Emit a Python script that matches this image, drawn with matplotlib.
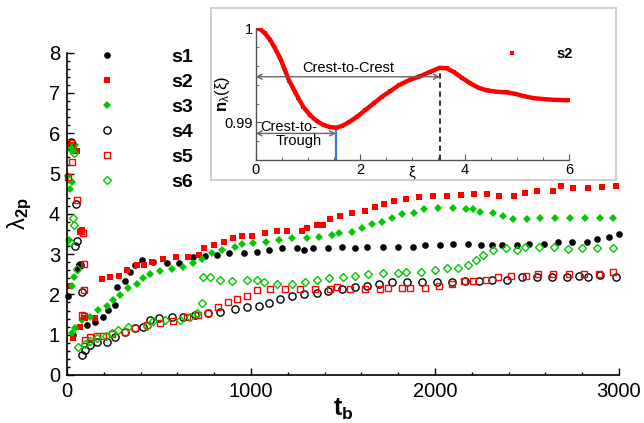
import matplotlib
matplotlib.use("Agg")
import matplotlib.pyplot as plt
from matplotlib.lines import Line2D
from matplotlib.ticker import MultipleLocator
import numpy as np

plt.rcParams['font.family'] = ['Liberation Sans', 'DejaVu Sans']
plt.rcParams['mathtext.fontset'] = 'custom'
plt.rcParams['mathtext.rm'] = 'Liberation Sans'
plt.rcParams['mathtext.it'] = 'Liberation Sans:italic'
plt.rcParams['mathtext.bf'] = 'Liberation Sans:bold'
plt.rcParams['mathtext.default'] = 'regular'

# lambda_2p against t_b for six runs, (t_b, lambda_2p)
s1_pts = [(5, 1.97), (25, 5.6), (53, 2.62), (65, 2.72),
          (33, 1.0), (107, 1.24), (152, 1.32), (196, 1.45), (223, 1.61), (261, 1.74),
          (270, 2.18), (315, 2.33), (342, 2.56), (370, 2.73), (406, 2.85), (469, 2.81),
          (542, 2.77), (610, 2.79), (687, 2.94), (750, 2.96), (814, 2.98), (882, 3.02),
          (962, 3.02), (1031, 3.06), (1100, 3.1), (1167, 3.14), (1248, 3.14), (1288, 3.1),
          (1335, 3.14), (1420, 3.14), (1496, 3.18), (1565, 3.14), (1632, 3.18), (1716, 3.18),
          (1797, 3.18), (1879, 3.18), (1946, 3.22), (2027, 3.22), (2096, 3.26), (2181, 3.26),
          (2248, 3.22), (2311, 3.22), (2366, 3.22), (2444, 3.22), (2513, 3.26), (2594, 3.26),
          (2667, 3.3), (2743, 3.3), (2825, 3.3), (2882, 3.38), (2947, 3.43), (3002, 3.51)]

s2_pts = [(15, 2.2), (20, 5.7), (40, 5.65), (55, 5.55), (70, 3.55), (80, 3.6),
          (35, 0.91), (70, 1.2), (98, 1.41), (152, 1.41), (188, 2.38), (234, 2.42),
          (284, 2.46), (324, 2.6), (379, 2.73), (418, 2.73), (460, 2.81), (523, 2.89),
          (592, 2.94), (660, 2.92), (719, 2.98), (743, 3.14), (799, 3.22), (853, 3.31),
          (904, 3.39), (950, 3.44), (1006, 3.44), (1074, 3.52), (1143, 3.57), (1195, 3.57),
          (1275, 3.57), (1307, 3.65), (1360, 3.73), (1389, 3.73), (1429, 3.86), (1484, 3.95),
          (1547, 4.01), (1618, 4.08), (1672, 4.17), (1723, 4.24), (1777, 4.33), (1841, 4.36),
          (1913, 4.43), (1991, 4.44), (2064, 4.45), (2141, 4.46), (2214, 4.49), (2281, 4.49),
          (2350, 4.45), (2429, 4.45), (2489, 4.52), (2553, 4.57), (2640, 4.57), (2685, 4.69),
          (2752, 4.65), (2830, 4.65), (2906, 4.66), (2982, 4.69)]

s3_pts = [(5, 4.95), (15, 4.62), (25, 4.78), (20, 5.65), (35, 5.55), (45, 5.7),
          (10, 3.35), (25, 2.2), (40, 2.42),
          (25, 1.04), (43, 1.17), (80, 1.36), (125, 1.45), (170, 1.61), (216, 1.71),
          (252, 1.86), (288, 1.99), (333, 2.15), (379, 2.27), (415, 2.4), (451, 2.5),
          (505, 2.59), (569, 2.63), (632, 2.69), (683, 2.79), (732, 2.89), (786, 3.02),
          (841, 3.1), (913, 3.18), (949, 3.24), (1013, 3.27), (1082, 3.31), (1154, 3.35),
          (1221, 3.39), (1303, 3.39), (1371, 3.43), (1439, 3.47), (1480, 3.52), (1547, 3.56),
          (1602, 3.64), (1656, 3.74), (1710, 3.8), (1765, 3.9), (1822, 3.99), (1886, 4.03),
          (1942, 4.11), (2016, 4.15), (2096, 4.15), (2167, 4.11), (2205, 4.11), (2245, 4.05),
          (2314, 4.03), (2371, 3.95), (2422, 3.86), (2502, 3.86), (2571, 3.9), (2652, 3.9),
          (2734, 3.9), (2815, 3.9), (2897, 3.9), (2966, 3.9)]

s4_pts = [(20, 5.78), (50, 4.25), (45, 3.2), (55, 3.32), (71, 2.73), (82, 2.07),
          (80, 0.5), (98, 0.62), (125, 0.74), (161, 0.83), (216, 0.83), (261, 0.95),
          (315, 1.07), (370, 1.16), (415, 1.2), (451, 1.36), (502, 1.41), (569, 1.43),
          (632, 1.45), (696, 1.49), (768, 1.55), (832, 1.57), (913, 1.63), (977, 1.68),
          (1042, 1.71), (1100, 1.78), (1156, 1.88), (1221, 1.96), (1286, 2.01), (1357, 2.04),
          (1420, 2.08), (1493, 2.13), (1565, 2.18), (1629, 2.22), (1695, 2.27), (1765, 2.32),
          (1850, 2.32), (1928, 2.32), (2009, 2.32), (2091, 2.32), (2163, 2.33), (2241, 2.33),
          (2313, 2.37), (2390, 2.37), (2471, 2.42), (2553, 2.42), (2634, 2.42), (2716, 2.44),
          (2784, 2.46), (2833, 2.42), (2897, 2.47), (2984, 2.44)]

s5_pts = [(20, 5.75), (30, 5.28), (5, 4.92), (53, 4.34), (75, 3.58), (85, 3.52),
          (90, 2.75), (95, 2.1), (90, 1.47), (80, 1.5),
          (98, 0.87), (125, 0.95), (161, 0.97), (197, 0.97), (243, 1.02), (315, 1.07),
          (370, 1.17), (433, 1.24), (505, 1.28), (578, 1.35), (650, 1.45), (714, 1.49),
          (768, 1.55), (822, 1.68), (877, 1.82), (926, 1.88), (980, 1.97), (1031, 2.1),
          (1103, 2.14), (1185, 2.14), (1266, 2.14), (1348, 2.14), (1429, 2.14), (1469, 2.18),
          (1538, 2.14), (1620, 2.14), (1701, 2.14), (1746, 2.17), (1822, 2.15), (1864, 2.17),
          (1946, 2.17), (2024, 2.21), (2091, 2.26), (2160, 2.34), (2208, 2.34), (2277, 2.37),
          (2342, 2.42), (2411, 2.46), (2495, 2.46), (2562, 2.51), (2643, 2.51), (2730, 2.51),
          (2810, 2.51), (2893, 2.51), (2966, 2.56)]

s6_pts = [(20, 5.6), (40, 5.5), (33, 3.9), (40, 3.72), (15, 3.3), (55, 2.62),
          (62, 0.7), (100, 0.78), (125, 0.85), (165, 0.92), (210, 0.98), (243, 1.03),
          (279, 1.12), (333, 1.2), (433, 1.22), (469, 1.33), (533, 1.36), (614, 1.36),
          (668, 1.43), (705, 1.53), (732, 1.78), (741, 2.42), (777, 2.42), (831, 2.37),
          (895, 2.34), (977, 2.35), (1031, 2.36), (1072, 2.32), (1140, 2.26), (1221, 2.26),
          (1294, 2.32), (1361, 2.36), (1426, 2.4), (1498, 2.44), (1565, 2.46), (1634, 2.51),
          (1716, 2.52), (1797, 2.54), (1843, 2.56), (1924, 2.56), (2000, 2.61), (2067, 2.65),
          (2127, 2.65), (2181, 2.73), (2223, 2.85), (2263, 2.98), (2317, 3.1), (2386, 3.14),
          (2444, 3.1), (2489, 3.18), (2567, 3.18), (2649, 3.18), (2721, 3.13), (2797, 3.14),
          (2882, 3.14), (2966, 3.14)]

# n_lambda(xi) profile for run s2
xi = [0, 0.08, 0.18, 0.28, 0.37, 0.47, 0.56, 0.64, 0.72, 0.82, 0.91, 1.04, 1.17, 1.30,
      1.43, 1.54, 1.65, 1.78, 1.94, 2.10, 2.26, 2.42, 2.58, 2.74, 2.96, 3.15, 3.34, 3.53,
      3.66, 3.79, 3.95, 4.11, 4.27, 4.43, 4.62, 4.81, 4.97, 5.13, 5.32, 5.51, 5.71, 5.90, 6.0]
n_xi = [1.0, 0.99993, 0.99947, 0.99876, 0.99787, 0.99681, 0.99557, 0.99445, 0.99362,
        0.99255, 0.99167, 0.99078, 0.99014, 0.98972, 0.98950, 0.98943, 0.98961, 0.99000,
        0.99060, 0.99131, 0.99202, 0.99273, 0.99333, 0.99395, 0.99455, 0.99490, 0.99538,
        0.99581, 0.99574, 0.99538, 0.99474, 0.99415, 0.99368, 0.99340, 0.99326, 0.99319,
        0.99304, 0.99280, 0.99258, 0.99248, 0.99240, 0.99237, 0.99234]

RED = '#ff0000'
GREEN = '#00c800'

series = [
    ('s1', s1_pts, dict(marker='o', color='black', mfc='black', ms=4.8, mew=0)),
    ('s2', s2_pts, dict(marker='s', color=RED, mfc=RED, ms=4.0, mew=0)),
    ('s3', s3_pts, dict(marker='D', color=GREEN, mfc=GREEN, ms=3.8, mew=0)),
    ('s4', s4_pts, dict(marker='o', color='black', mfc='none', ms=5.2, mew=1.0)),
    ('s5', s5_pts, dict(marker='s', color=RED, mfc='none', ms=4.3, mew=1.0)),
    ('s6', s6_pts, dict(marker='D', color=GREEN, mfc='none', ms=4.2, mew=1.0)),
]

fig = plt.figure(figsize=(6.44, 4.23), dpi=100)
ax = fig.add_axes([0.104, 0.1135, 0.857, 0.762])

handles = []
for name, pts, style in series:
    t, v = zip(*pts)
    ax.plot(t, v, linestyle='none', clip_on=False, **style)
    handles.append(Line2D([], [], linestyle='none', label=name, **style))

ax.set_xlim(0, 3000)
ax.set_ylim(0, 8)
ax.xaxis.set_major_locator(MultipleLocator(1000))
ax.xaxis.set_minor_locator(MultipleLocator(200))
ax.yaxis.set_major_locator(MultipleLocator(1))
ax.yaxis.set_minor_locator(MultipleLocator(0.2))
for side in ('top', 'right'):
    ax.spines[side].set_visible(False)
for side in ('left', 'bottom'):
    ax.spines[side].set_linewidth(1.2)
ax.tick_params(which='both', direction='in', width=1.0, labelsize=14.5)
ax.tick_params(which='major', length=5)
ax.tick_params(which='minor', length=2.5)
ax.tick_params(axis='x', pad=5)
ax.tick_params(axis='y', pad=5)

ax.set_xlabel(r'$\mathbf{t_b}$', fontsize=18)
ax.xaxis.set_label_coords(0.5, -0.068)
ax.set_ylabel(r'$\lambda_{\mathbf{2p}}$', fontsize=17)
ax.yaxis.set_label_coords(-0.06, 0.5)

ax.legend(handles=handles, loc='upper left', bbox_to_anchor=(0.124, 0.9267),
          bbox_transform=fig.transFigure, frameon=False, handlelength=1.0,
          handletextpad=2.8, labelspacing=0.38, borderpad=0.4,
          prop=dict(size=14, weight='bold'))

# framed panel holding the n_lambda(xi) profile
frame = fig.add_axes([0.3276, 0.5745, 0.6289, 0.407], zorder=2)
frame.set_xticks([])
frame.set_yticks([])
for sp in frame.spines.values():
    sp.set_color('#cfcfcf')
    sp.set_linewidth(1.4)

ax_in = fig.add_axes([0.397, 0.6217, 0.4865, 0.3113], zorder=3)
ax_in.patch.set_alpha(0)
ax_in.plot(xi, n_xi, color=RED, lw=3.2, marker='s', ms=3.2, mew=0,
           solid_capstyle='butt', label='s2')
ax_in.set_xlim(0, 6)
ax_in.set_ylim(0.986, 1.0)
ax_in.set_xticks([0, 2, 4, 6])
ax_in.xaxis.set_minor_locator(MultipleLocator(0.5))
ax_in.set_yticks([0.99, 1.0])
ax_in.set_yticklabels(['0.99', '1'])
ax_in.yaxis.set_minor_locator(MultipleLocator(0.002))
for side in ('top', 'right'):
    ax_in.spines[side].set_visible(False)
for side in ('left', 'bottom'):
    ax_in.spines[side].set_color('#555555')
    ax_in.spines[side].set_linewidth(1.0)
ax_in.tick_params(which='both', direction='in', color='#555555', labelsize=10.5, pad=2)
ax_in.tick_params(which='major', length=4)
ax_in.tick_params(which='minor', length=2)

ax_in.set_xlabel(r'$\xi$', fontsize=11)
ax_in.xaxis.set_label_coords(0.5, -0.035)
ax_in.set_ylabel(r'$\mathbf{n}_{\lambda}(\xi)$', fontsize=12)
ax_in.yaxis.set_label_coords(-0.075, 0.5)

xi_arr = np.array(xi)
n_arr = np.array(n_xi)
i_tr = int(np.argmin(n_arr))
i_cr = int(np.argmax(np.where(xi_arr > 2, n_arr, 0)))
x_tr, y_tr = xi_arr[i_tr], n_arr[i_tr]
x_cr, y_cr = xi_arr[i_cr], n_arr[i_cr]

ax_in.plot([x_tr, x_tr], [0.986, y_tr], color='#3a78e0', lw=1.6, zorder=1)
ax_in.plot([x_cr, x_cr], [0.986, y_cr], color='#222222', lw=1.3, ls=(0, (3, 2)), zorder=1)

arrow = dict(arrowstyle='<->', color='#666666', lw=1.0, shrinkA=0, shrinkB=0,
             mutation_scale=9)
ax_in.annotate('', xy=(x_cr, 0.99485), xytext=(0, 0.99485), arrowprops=arrow)
ax_in.annotate('', xy=(x_tr, 0.98883), xytext=(0, 0.98883), arrowprops=arrow)
ax_in.text(1.78, 0.99575, 'Crest-to-Crest', ha='center', va='center', fontsize=10.5)
ax_in.text(0.63, 0.98953, 'Crest-to-', ha='center', va='center', fontsize=10.5)
ax_in.text(0.83, 0.98801, 'Trough', ha='center', va='center', fontsize=10.5)

ax_in.legend(loc='center left', bbox_to_anchor=(0.764, 0.8723),
             bbox_transform=fig.transFigure, frameon=False, handlelength=1.0,
             handletextpad=2.5, borderpad=0.4,
             prop=dict(size=10.5, weight='bold'),
             handles=[Line2D([], [], linestyle='none', marker='s', color=RED,
                             ms=3.5, mew=0, label='s2')])

fig.savefig('out.png', dpi=100)
